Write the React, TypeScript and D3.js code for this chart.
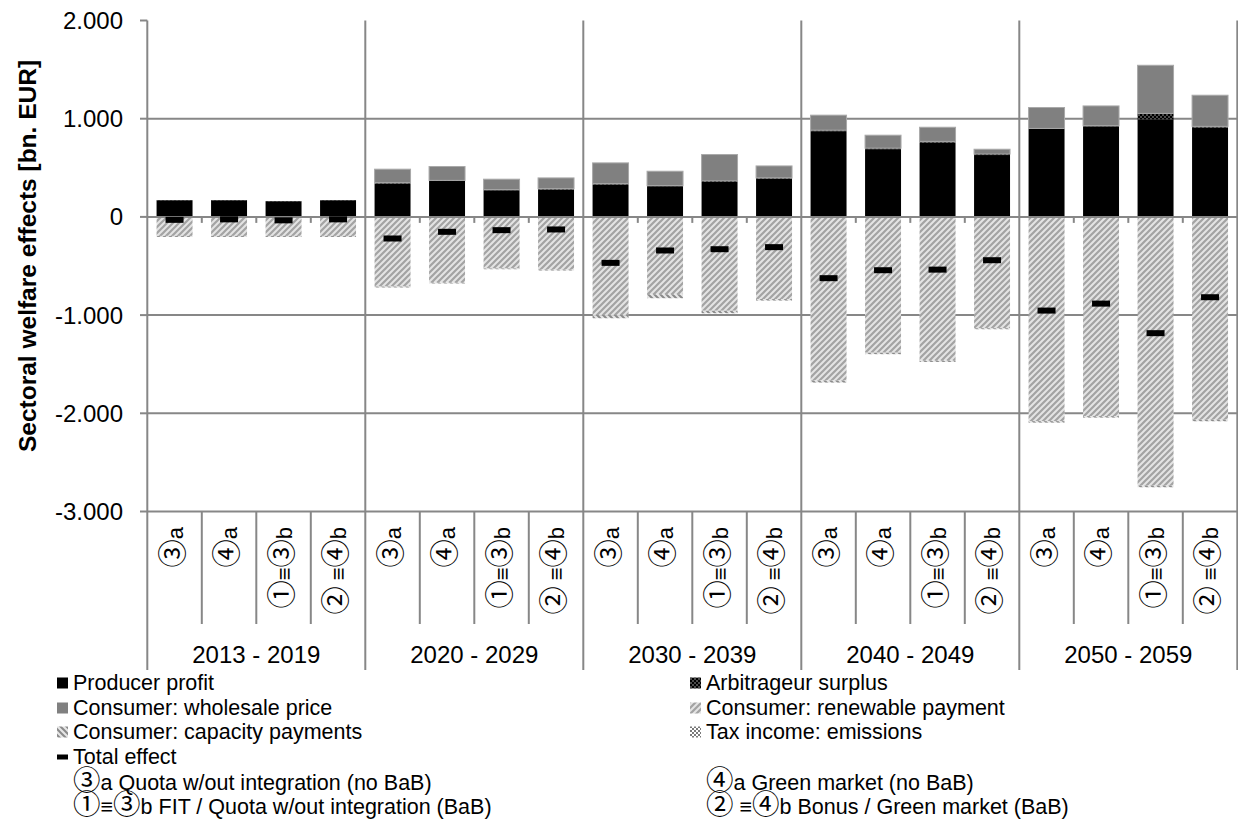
import React from "react";
import * as d3 from "d3";

// ---- data (values in bn. EUR, thousands separator "." as in the original) ----
const periods = ["2013 - 2019", "2020 - 2029", "2030 - 2039", "2040 - 2049", "2050 - 2059"];
const scenarios = ["③a", "④a", "①≡③b", "② ≡④b"];

const producerProfit = [169, 169, 159, 169, 340, 367, 272, 279, 330, 313, 356, 389, 873, 690, 757, 630, 896, 923, 994, 910];
const arbitrageurSurplus = [3, 3, 3, 3, 8, 5, 5, 8, 8, 5, 10, 8, 10, 10, 12, 10, 5, 5, 60, 12];
const wholesalePrice = [0, 0, 0, 0, 138, 141, 107, 110, 212, 147, 269, 122, 153, 132, 144, 49, 213, 202, 490, 317];
const renewablePayment = [-194, -194, -194, -194, -709, -668, -525, -538, -1002, -788, -956, -837, -1667, -1383, -1462, -1134, -2080, -2029, -2738, -2066];
const capacityPayments = [-10, -10, -10, -10, -10, -10, -8, -8, -30, -40, -25, -15, -20, -15, -15, -10, -15, -15, -15, -15];
const taxIncome = [0, 0, 0, 0, 0, 0, 0, 0, 0, 0, 0, 0, 0, 0, 0, 0, 0, 0, 0, 0];
const totalEffect = [-30, -25, -35, -25, -220, -152, -135, -128, -468, -342, -329, -308, -624, -543, -537, -441, -954, -883, -1184, -818];

const yTicks = [2000, 1000, 0, -1000, -2000, -3000];
const yTickLabels = ["2.000", "1.000", "0", "-1.000", "-2.000", "-3.000"];
const yTitle = "Sectoral welfare effects [bn. EUR]";

const seriesKeys = ["producer", "arbitrageur", "wholesale", "renewable", "capacity", "tax"];
const seriesNames = [
  "Producer profit",
  "Arbitrageur surplus",
  "Consumer: wholesale price",
  "Consumer: renewable payment",
  "Consumer: capacity payments",
  "Tax income: emissions",
];
const scenarioLegend = [
  "③a Quota w/out integration (no BaB)",
  "④a Green market (no BaB)",
  "①≡③b FIT / Quota w/out integration (BaB)",
  "② ≡④b Bonus / Green market (BaB)",
];

const W = 1238;
const H = 835;
const FONT = "'Liberation Sans', Arial, 'Noto Sans CJK JP', sans-serif";
const CJK = "'Noto Sans CJK JP', 'Noto Sans CJK SC', sans-serif";
const GRID = "#878787";

const fills: Record<string, string> = {
  producer: "#000000",
  arbitrageur: "url(#pArb)",
  wholesale: "#808080",
  renewable: "url(#pRen)",
  capacity: "url(#pCap)",
  tax: "url(#pTax)",
};

// split a label into runs: circled digits get the CJK font at a larger size
function rich(s: string, size: number) {
  const runs: { circ: boolean; t: string }[] = [];
  for (const ch of Array.from(s)) {
    const circ = /[\u2460-\u2473]/.test(ch);
    const last = runs[runs.length - 1];
    if (last && last.circ === circ) last.t += ch;
    else runs.push({ circ, t: ch });
  }
  return runs.map((r, i) =>
    r.circ ? (
      <tspan key={i} fontFamily={CJK} fontSize={size * 1.28}>
        {r.t}
      </tspan>
    ) : (
      <tspan key={i} fontSize={size} style={{ whiteSpace: "pre" }}>
        {r.t}
      </tspan>
    )
  );
}

export default function App() {
  const ids = periods.flatMap((p, gi) => scenarios.map((s, si) => `${gi}-${si}`));
  const rows = ids.map((id, i) => ({
    id,
    producer: producerProfit[i],
    arbitrageur: arbitrageurSurplus[i],
    wholesale: wholesalePrice[i],
    renewable: renewablePayment[i],
    capacity: capacityPayments[i],
    tax: taxIncome[i],
  }));

  const x = d3.scaleBand<string>().domain(ids).range([147.3, 1237.3]).paddingInner(0.34).paddingOuter(0.17);
  const y = d3.scaleLinear().domain([-3000, 2000]).range([511.5, 20.5]);
  const step = x.step();
  const half = (step - x.bandwidth()) / 2;

  const stack = d3.stack<any>().keys(seriesKeys).offset(d3.stackOffsetDiverging);
  const layers = stack(rows);

  const yTop = y(2000);
  const yBot = y(-3000);
  const y0 = y(0);
  const bottomTable = 670;
  const subEnd = 624;

  const slotLeft = (i: number) => (x(ids[i]) as number) - half;

  const legendRows = [683, 708, 732, 757, 782, 806];
  const leftX = 57;
  const rightX = 690;
  const LFS = 21.5;

  const legendItems = [
    { key: "producer", col: 0, row: 0 },
    { key: "wholesale", col: 0, row: 1 },
    { key: "capacity", col: 0, row: 2 },
    { key: "arbitrageur", col: 1, row: 0 },
    { key: "renewable", col: 1, row: 1 },
    { key: "tax", col: 1, row: 2 },
  ];

  return (
    <svg width={W} height={H} style={{ position: "absolute", left: 0, top: 0, background: "#fff" }} fontFamily={FONT}>
      <defs>
        <pattern id="pRen" width="6" height="6" patternUnits="userSpaceOnUse">
          <rect width="6" height="6" fill="#e4e4e4" />
          <path d="M-1,1 l2,-2 M0,6 l6,-6 M5,7 l2,-2" stroke="#a3a3a3" strokeWidth="2.2" />
        </pattern>
        <pattern id="pCap" width="6" height="6" patternUnits="userSpaceOnUse">
          <rect width="6" height="6" fill="#e6e6e6" />
          <path d="M-1,5 l2,2 M0,0 l6,6 M5,-1 l2,2" stroke="#8a8a8a" strokeWidth="2" />
        </pattern>
        <pattern id="pArb" width="4" height="4" patternUnits="userSpaceOnUse">
          <rect width="4" height="4" fill="#000" />
          <rect x="0" y="0" width="2" height="2" fill="#4a4a4a" />
          <rect x="2" y="2" width="2" height="2" fill="#4a4a4a" />
        </pattern>
        <pattern id="pTax" width="4" height="4" patternUnits="userSpaceOnUse">
          <rect width="4" height="4" fill="#ffffff" />
          <rect x="0" y="0" width="2" height="2" fill="#7a7a7a" />
          <rect x="2" y="2" width="2" height="2" fill="#7a7a7a" />
        </pattern>
      </defs>

      {/* horizontal gridlines */}
      {yTicks
        .filter((t) => t !== 2000)
        .map((t) => (
          <line key={"g" + t} x1={147.3} x2={1237.3} y1={y(t)} y2={y(t)} stroke={GRID} strokeWidth={2} />
        ))}

      {/* bars */}
      {layers.map((layer) => (
        <g key={layer.key} fill={fills[layer.key]}>
          {layer.map((d, i) => {
            const h = Math.abs(y(d[0]) - y(d[1]));
            if (h < 0.01) return null;
            return (
              <rect
                key={i}
                x={x(ids[i])}
                y={Math.min(y(d[0]), y(d[1]))}
                width={x.bandwidth()}
                height={h}
                stroke={layer.key === "wholesale" ? "#a9a9a9" : "none"}
                strokeWidth={layer.key === "wholesale" ? 1 : 0}
              />
            );
          })}
        </g>
      ))}

      {/* zero axis line and ticks */}
      <line x1={147.3} x2={1237.3} y1={y0} y2={y0} stroke={GRID} strokeWidth={2} />
      {ids.map((id, i) =>
        i % 4 !== 0 ? (
          <line key={"zt" + i} x1={slotLeft(i)} x2={slotLeft(i)} y1={y0} y2={y0 + 6} stroke={GRID} strokeWidth={2} />
        ) : null
      )}

      {/* total effect markers */}
      {totalEffect.map((v, i) => (
        <rect key={"te" + i} x={(x(ids[i]) as number) + x.bandwidth() / 2 - 9} y={y(v) - 3} width={18} height={6} fill="#000" />
      ))}

      {/* vertical group separators and left axis */}
      {d3.range(0, 6).map((g) => {
        const gx = g < 5 ? slotLeft(g * 4) : 1237.3;
        return <line key={"vg" + g} x1={gx} x2={gx} y1={yTop} y2={bottomTable} stroke={GRID} strokeWidth={2} />;
      })}
      {/* sub-category separators in label table */}
      {ids.map((id, i) =>
        i % 4 !== 0 ? (
          <line key={"vs" + i} x1={slotLeft(i)} x2={slotLeft(i)} y1={yBot} y2={subEnd} stroke={GRID} strokeWidth={2} />
        ) : null
      )}

      {/* y ticks */}
      {yTicks.map((t, i) => (
        <g key={"yt" + t}>
          <line x1={140} x2={147.3} y1={y(t)} y2={y(t)} stroke={GRID} strokeWidth={2} />
          <text x={123} y={y(t)} textAnchor="end" dominantBaseline="central" fontSize={24} fill="#000">
            {yTickLabels[i]}
          </text>
        </g>
      ))}
      <text
        transform={`translate(27, ${(yTop + yBot) / 2 - 10}) rotate(-90)`}
        textAnchor="middle"
        dominantBaseline="central"
        fontSize={24.5}
        fontWeight="bold"
        fill="#000"
      >
        {yTitle}
      </text>

      {/* scenario labels (rotated) */}
      {ids.map((id, i) => (
        <text
          key={"sl" + i}
          transform={`translate(${(x(id) as number) + x.bandwidth() / 2 + 8}, 527) rotate(-90)`}
          textAnchor="end"
          fill="#000"
        >
          {rich(scenarios[i % 4], 22)}
        </text>
      ))}

      {/* period labels */}
      {periods.map((p, g) => {
        const cx = (slotLeft(g * 4) + (g < 4 ? slotLeft(g * 4 + 4) : 1237.3)) / 2;
        return (
          <text key={"pl" + g} x={cx} y={654} textAnchor="middle" dominantBaseline="central" fontSize={24} fill="#000">
            {p}
          </text>
        );
      })}

      {/* legend */}
      {legendItems.map((it) => {
        const mx = it.col === 0 ? leftX : rightX;
        const cy = legendRows[it.row];
        return (
          <g key={"lg" + it.key}>
            <rect x={mx} y={cy - 5.5} width={11} height={11} fill={fills[it.key]} />
            <text x={mx + 16} y={cy} dominantBaseline="central" fontSize={LFS} fill="#000">
              {seriesNames[seriesKeys.indexOf(it.key)]}
            </text>
          </g>
        );
      })}
      <rect x={leftX} y={legendRows[3] - 2.5} width={11} height={5} fill="#000" />
      <text x={leftX + 16} y={legendRows[3]} dominantBaseline="central" fontSize={LFS} fill="#000">
        Total effect
      </text>
      <text x={leftX + 16} y={legendRows[4] + 7.5} fill="#000">
        {rich(scenarioLegend[0], LFS)}
      </text>
      <text x={rightX + 16} y={legendRows[4] + 7.5} fill="#000">
        {rich(scenarioLegend[1], LFS)}
      </text>
      <text x={leftX + 16} y={legendRows[5] + 7.5} fill="#000">
        {rich(scenarioLegend[2], LFS)}
      </text>
      <text x={rightX + 16} y={legendRows[5] + 7.5} fill="#000">
        {rich(scenarioLegend[3], LFS)}
      </text>
    </svg>
  );
}
